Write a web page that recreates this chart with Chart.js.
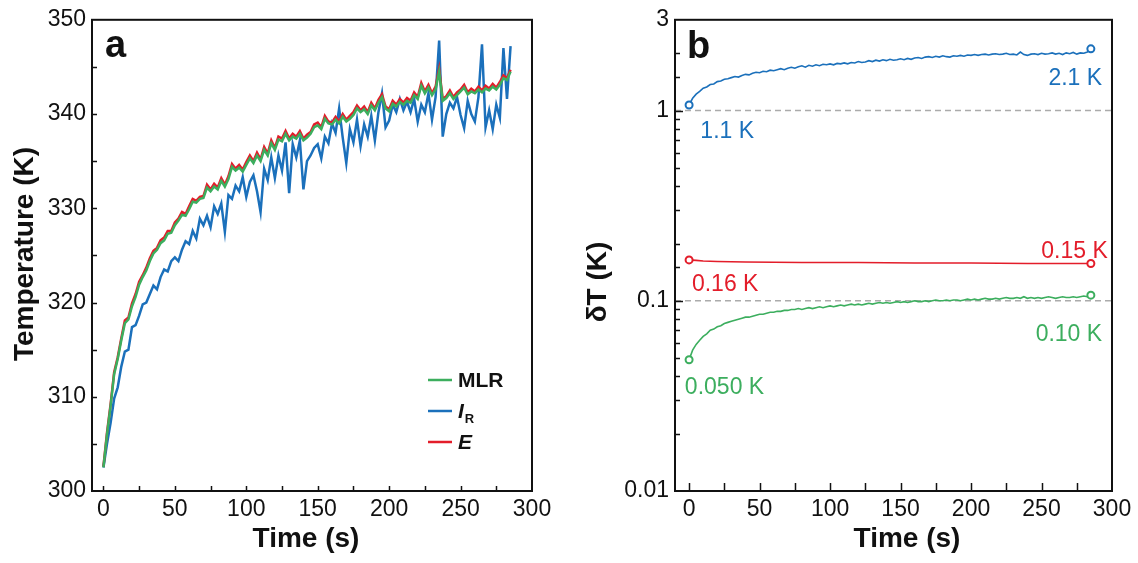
<!DOCTYPE html>
<html>
<head>
<meta charset="utf-8">
<script src="https://cdn.jsdelivr.net/npm/chart.js@4.4.0/dist/chart.umd.min.js"></script>
<style>
  body { margin: 0; background: #fff; }
  #wrap { position: relative; width: 1138px; height: 563px; }
  canvas { position: absolute; top: 0; }
  #chartA { left: 0; }
  #chartB { left: 560px; }
</style>
</head>
<body>
<div id="wrap">
  <canvas id="chartA" width="560" height="563"></canvas>
  <canvas id="chartB" width="578" height="563"></canvas>
</div>
<script>
'use strict';
const FONT = '"Liberation Sans", Arial, Helvetica, sans-serif';
const GREEN = '#3cae5e';
const BLUE = '#1b70bb';
const RED = '#e31d2a';
const INK = '#111111';

// time (s), shared by the traces
let times = [
  0, 2.5, 5, 7.5, 10, 12.5, 15, 17.5, 20, 22.5,
  25, 27.5, 30, 32.5, 35, 37.5, 40, 42.5, 45, 47.5,
  50, 52.5, 55, 57.5, 60, 62.5, 65, 67.5, 70, 72.5,
  75, 77.5, 80, 82.5, 85, 87.5, 90, 92.5, 95, 97.5,
  100, 102.5, 105, 107.5, 110, 112.5, 115, 117.5, 120, 122.5,
  125, 127.5, 130, 132.5, 135, 137.5, 140, 142.5, 145, 147.5,
  150, 152.5, 155, 157.5, 160, 162.5, 165, 167.5, 170, 172.5,
  175, 177.5, 180, 182.5, 185, 187.5, 190, 192.5, 195, 197.5,
  200, 202.5, 205, 207.5, 210, 212.5, 215, 217.5, 220, 222.5,
  225, 227.5, 230, 232.5, 235, 237.5, 240, 242.5, 245, 247.5,
  250, 252.5, 255, 257.5, 260, 262.5, 265, 267.5, 270, 272.5,
  275, 277.5, 280, 282.5, 285
];

// panel a: temperature (K)
let tempMLR = [
  302.5, 306.0, 309.0, 312.4, 314.0, 316.0, 317.8, 318.2, 319.6, 320.6,
  321.9, 322.7, 323.4, 324.4, 325.2, 325.6, 326.3, 326.6, 327.3, 327.4,
  328.2, 328.7, 329.3, 329.2, 329.9, 330.7, 330.6, 331.0, 331.1, 332.2,
  331.8, 332.3, 332.0, 332.9, 332.3, 333.1, 334.4, 334.0, 334.3, 333.9,
  334.6, 335.3, 334.8, 335.6, 335.0, 336.2, 335.6, 336.9, 336.2, 337.3,
  337.1, 337.9, 337.2, 337.6, 337.4, 337.9, 337.2, 337.5, 337.9, 338.6,
  338.8, 338.4, 339.5, 339.0, 338.9, 339.4, 339.0, 339.7, 339.2, 339.5,
  339.9, 340.6, 340.2, 340.5, 340.0, 340.9, 340.4, 341.2, 341.8, 340.6,
  340.3, 341.1, 340.8, 341.3, 341.0, 341.4, 341.2, 342.0, 341.6, 343.0,
  342.2, 342.8, 342.0, 342.6, 344.5, 341.4, 341.7, 342.2, 341.6, 342.0,
  342.4, 342.8, 342.1, 342.4, 342.2, 342.6, 342.3, 342.7, 342.5, 342.9,
  342.6, 343.1, 343.8, 343.6, 344.5
];
let tempE = [
  302.6, 306.2, 309.2, 312.6, 314.2, 316.2, 318.1, 318.4, 319.9, 320.9,
  322.2, 322.9, 323.7, 324.7, 325.5, 325.8, 326.6, 326.9, 327.6, 327.6,
  328.5, 328.9, 329.6, 329.4, 330.2, 331.0, 330.8, 331.2, 331.3, 332.5,
  332.0, 332.6, 332.2, 333.2, 332.5, 333.4, 334.7, 334.2, 334.6, 334.1,
  334.9, 335.6, 335.0, 335.9, 335.2, 336.5, 335.8, 337.2, 336.4, 337.6,
  337.4, 338.2, 337.4, 337.9, 337.6, 338.2, 337.4, 337.8, 338.1, 338.9,
  339.1, 338.6, 339.8, 339.2, 339.1, 339.7, 339.2, 340.0, 339.4, 339.8,
  340.2, 340.9, 340.4, 340.8, 340.2, 341.2, 340.6, 341.5, 342.1, 340.8,
  340.5, 341.4, 341.0, 341.6, 341.2, 341.7, 341.4, 342.3, 341.8, 343.3,
  342.4, 343.1, 342.2, 342.9, 344.8, 341.6, 341.9, 342.5, 341.8, 342.3,
  342.6, 343.1, 342.3, 342.7, 342.4, 342.9, 342.5, 343.0, 342.7, 343.2,
  342.8, 343.4, 344.1, 343.8, 344.7
];
let tempIR = [
  302.5, 305.0, 307.2, 309.8, 311.0, 313.2, 314.8, 315.0, 317.4, 317.6,
  318.6, 319.8, 320.0, 320.9, 321.8, 321.4, 322.7, 323.5, 323.3, 324.4,
  324.8, 324.4, 325.6, 326.5, 326.2, 327.6, 326.8, 328.9, 328.2, 329.2,
  328.0, 330.2, 329.4, 330.5, 327.5, 331.4, 331.0, 332.4, 331.8, 333.3,
  331.2, 332.8, 333.5, 331.8, 329.6, 334.2, 333.0, 335.4, 333.2, 335.6,
  334.0, 337.0, 331.6, 336.8, 335.4, 337.2, 332.0, 335.0, 335.6, 336.4,
  336.8, 335.3, 337.6, 336.9, 339.0, 338.0, 340.6, 337.5, 334.8, 338.4,
  337.0, 339.4, 336.6, 338.9, 337.6, 339.8, 337.2, 340.2, 342.2, 338.6,
  339.3, 341.0, 340.2, 341.6, 340.4, 341.3, 340.2, 341.6, 339.2, 341.0,
  340.2, 342.2, 339.4, 341.8, 347.8, 337.6, 340.0, 341.2, 340.6, 341.8,
  339.9, 338.5, 341.4, 340.0, 339.2, 341.8, 347.4, 338.6, 340.4, 338.4,
  341.0, 339.6, 347.0, 341.6, 347.2
];

// panel b: deltaT (K)
let dtIR = [
  1.07, 1.16, 1.22, 1.26, 1.31, 1.33, 1.37, 1.38, 1.42, 1.43,
  1.46, 1.47, 1.49, 1.51, 1.50, 1.53, 1.55, 1.54, 1.57, 1.59,
  1.58, 1.61, 1.60, 1.63, 1.62, 1.64, 1.66, 1.64, 1.67, 1.69,
  1.67, 1.70, 1.72, 1.69, 1.73, 1.71, 1.74, 1.72, 1.75, 1.74,
  1.76, 1.74, 1.77, 1.76, 1.78, 1.76, 1.79, 1.78, 1.81, 1.79,
  1.80, 1.83, 1.81, 1.84, 1.82, 1.85, 1.83, 1.86, 1.84, 1.85,
  1.87, 1.85, 1.88, 1.86, 1.89, 1.90, 1.88, 1.91, 1.92, 1.90,
  1.93, 1.91, 1.94, 1.92, 1.91, 1.94, 1.93, 1.95, 1.93, 1.96,
  1.95, 1.97, 1.95, 1.97, 1.98, 1.96, 1.98, 1.99, 1.97, 1.98,
  2.00, 1.97, 1.98, 1.96, 2.03, 1.97, 1.95, 1.98, 1.99, 1.97,
  2.00, 1.98, 1.99, 2.01, 1.98, 2.00, 1.97, 2.01, 1.99, 2.02,
  1.98, 2.01, 2.00, 2.03, 2.11
];
let dtMLR = [
  0.049, 0.055, 0.059, 0.062, 0.065, 0.067, 0.070, 0.071, 0.073, 0.074,
  0.076, 0.077, 0.078, 0.079, 0.080, 0.081, 0.082, 0.082, 0.083, 0.084,
  0.085, 0.085, 0.086, 0.087, 0.087, 0.088, 0.088, 0.089, 0.089, 0.090,
  0.090, 0.091, 0.090, 0.091, 0.092, 0.091, 0.092, 0.093, 0.092, 0.093,
  0.094, 0.093, 0.094, 0.095, 0.094, 0.095, 0.096, 0.095, 0.096, 0.095,
  0.096, 0.097, 0.096, 0.097, 0.098, 0.097, 0.098, 0.097, 0.098, 0.099,
  0.098, 0.099, 0.098, 0.099, 0.100, 0.099, 0.099, 0.100, 0.099, 0.100,
  0.101, 0.100, 0.100, 0.101, 0.100, 0.101, 0.101, 0.100, 0.101, 0.102,
  0.101, 0.102, 0.101, 0.102, 0.103, 0.102, 0.102, 0.103, 0.102, 0.103,
  0.104, 0.103, 0.103, 0.104, 0.103, 0.105, 0.103, 0.104, 0.103, 0.104,
  0.103, 0.104, 0.105, 0.104, 0.103, 0.104, 0.105, 0.104, 0.104, 0.105,
  0.104, 0.105, 0.106, 0.105, 0.107
];
let eTimes = [0, 5, 10, 20, 40, 80, 120, 160, 200, 240, 285];
let dtE = [0.164, 0.163, 0.162, 0.161, 0.160, 0.159, 0.159, 0.158, 0.158, 0.157, 0.157];

let refLevels = [1, 0.1];
let yLabelsA = [300, 310, 320, 330, 340, 350];
let yLabelsB = [0.01, 0.1, 1, 3];
let notes = [
  { text: '2.1 K', x: 293, y: 1.365, align: 'right', color: BLUE },
  { text: '1.1 K', x: 8, y: 0.716, align: 'left', color: BLUE },
  { text: '0.15 K', x: 297, y: 0.168, align: 'right', color: RED },
  { text: '0.16 K', x: 2, y: 0.112, align: 'left', color: RED },
  { text: '0.10 K', x: 293, y: 0.0617, align: 'right', color: GREEN },
  { text: '0.050 K', x: -3, y: 0.0324, align: 'left', color: GREEN }
];

function pairs(xs, ys) {
  return xs.map((x, i) => ({ x: x, y: ys[i] }));
}

function same(a, b) {
  return Math.abs(a - b) / Math.abs(b) < 1e-6;
}

function endPoint(ctx) {
  let n = ctx.dataset.data.length;
  return ctx.dataIndex === 0 || ctx.dataIndex === n - 1 ? 3.5 : 0;
}

function drawFrame(chart, xLen, yLen, majorY) {
  let ctx = chart.ctx;
  let a = chart.chartArea;
  let xs = chart.scales.x;
  let ys = chart.scales.y;
  ctx.save();
  ctx.strokeStyle = INK;
  ctx.lineWidth = 1.5;
  ctx.beginPath();
  xs.ticks.forEach(t => {
    if (t.value <= xs.min || t.value >= xs.max) return;
    let px = Math.round(xs.getPixelForValue(t.value)) + 0.5;
    ctx.moveTo(px, a.bottom);
    ctx.lineTo(px, a.bottom - xLen);
  });
  ys.ticks.forEach(t => {
    if (t.value <= ys.min || t.value >= ys.max) return;
    let py = Math.round(ys.getPixelForValue(t.value)) + 0.5;
    let len = majorY && majorY(t.value) ? yLen + 3 : yLen;
    ctx.moveTo(a.left, py);
    ctx.lineTo(a.left + len, py);
  });
  ctx.stroke();
  ctx.lineWidth = 2;
  ctx.strokeRect(a.left, a.top, a.right - a.left, a.bottom - a.top);
  ctx.restore();
}

function writeText(ctx, str, x, y, font, color, align, baseline) {
  ctx.save();
  ctx.font = font;
  ctx.fillStyle = color;
  ctx.textAlign = align || 'left';
  ctx.textBaseline = baseline || 'alphabetic';
  ctx.fillText(str, x, y);
  ctx.restore();
}

function writeVertical(ctx, str, x, y, font) {
  ctx.save();
  ctx.translate(x, y);
  ctx.rotate(-Math.PI / 2);
  ctx.font = font;
  ctx.fillStyle = INK;
  ctx.textAlign = 'center';
  ctx.textBaseline = 'middle';
  ctx.fillText(str, 0, 0);
  ctx.restore();
}

function baseScales(xMin, yWidth) {
  return {
    x: {
      type: 'linear',
      min: xMin,
      max: 300,
      grid: { display: false, drawTicks: false },
      border: { display: false },
      ticks: {
        stepSize: 25,
        includeBounds: false,
        autoSkip: false,
        maxRotation: 0,
        padding: 5,
        color: INK,
        font: { family: FONT, size: 23 },
        callback: v => (v % 50 === 0 ? String(v) : '')
      },
      afterFit: s => { s.height = 72; }
    },
    y: {
      grid: { display: false, drawTicks: false },
      border: { display: false },
      ticks: {
        autoSkip: false,
        padding: 6,
        color: INK,
        font: { family: FONT, size: 23 }
      },
      afterFit: s => { s.width = yWidth; }
    }
  };
}

// panel a
let scalesA = baseScales(-8, 92);
scalesA.y.min = 300;
scalesA.y.max = 350;
scalesA.y.ticks.stepSize = 5;
scalesA.y.ticks.callback = v => (yLabelsA.includes(v) ? String(v) : '');

let legendA = [
  { label: 'MLR', color: GREEN, italic: false },
  { label: 'I', sub: 'R', color: BLUE, italic: true },
  { label: 'E', color: RED, italic: true }
];

let panelA = {
  id: 'panelA',
  afterDatasetsDraw(chart) {
    let ctx = chart.ctx;
    let a = chart.chartArea;
    drawFrame(chart, 5, 5);
    writeText(ctx, 'a', a.left + 13, a.top + 37, 'bold 38px ' + FONT, INK);
    writeVertical(ctx, 'Temperature (K)', 25, 254, 'bold 28px ' + FONT);
    writeText(ctx, 'Time (s)', 306, 539, 'bold 28px ' + FONT, INK, 'center', 'middle');
    legendA.forEach((item, i) => {
      let y = 380 + i * 31;
      ctx.save();
      ctx.strokeStyle = item.color;
      ctx.lineWidth = 2.5;
      ctx.beginPath();
      ctx.moveTo(428, y);
      ctx.lineTo(452, y);
      ctx.stroke();
      ctx.restore();
      let font = (item.italic ? 'italic ' : '') + 'bold 21px ' + FONT;
      writeText(ctx, item.label, 458, y + 7, font, INK);
      if (item.sub) {
        ctx.font = font;
        let w = ctx.measureText(item.label).width;
        writeText(ctx, item.sub, 458 + w + 1, y + 12, 'bold 13px ' + FONT, INK);
      }
    });
  }
};

new Chart(document.getElementById('chartA'), {
  type: 'line',
  data: {
    datasets: [
      { label: 'MLR', data: pairs(times, tempMLR), borderColor: GREEN, borderWidth: 2.5, pointRadius: 0, order: 1 },
      { label: 'E', data: pairs(times, tempE), borderColor: RED, borderWidth: 2.5, pointRadius: 0, order: 2 },
      { label: 'IR', data: pairs(times, tempIR), borderColor: BLUE, borderWidth: 2.5, pointRadius: 0, order: 3 }
    ]
  },
  options: {
    responsive: false,
    animation: false,
    layout: { padding: { left: 0, right: 28, top: 15, bottom: 0 } },
    elements: { line: { tension: 0 } },
    scales: scalesA,
    plugins: { legend: { display: false }, tooltip: { enabled: false } }
  },
  plugins: [panelA]
});

// panel b
let scalesB = baseScales(-10, 115);
scalesB.y.type = 'logarithmic';
scalesB.y.min = 0.01;
scalesB.y.max = 3;
scalesB.y.ticks.callback = v => {
  let hit = yLabelsB.find(l => same(v, l));
  return hit === undefined ? '' : String(hit);
};

function decade(v) {
  let l = Math.log10(v);
  return Math.abs(l - Math.round(l)) < 1e-6;
}

let panelB = {
  id: 'panelB',
  afterDatasetsDraw(chart) {
    let ctx = chart.ctx;
    let a = chart.chartArea;
    let xs = chart.scales.x;
    let ys = chart.scales.y;
    drawFrame(chart, 8, 5, decade);
    writeText(ctx, 'b', a.left + 12, a.top + 38, 'bold 38px ' + FONT, INK);
    writeVertical(ctx, 'δT (K)', 38, 282, 'bold 28px ' + FONT);
    writeText(ctx, 'Time (s)', 347, 539, 'bold 28px ' + FONT, INK, 'center', 'middle');
    notes.forEach(n => {
      writeText(ctx, n.text, xs.getPixelForValue(n.x), ys.getPixelForValue(n.y),
        '23px ' + FONT, n.color, n.align);
    });
  }
};

let refSets = refLevels.map(v => ({
  label: 'ref ' + v,
  data: [{ x: -10, y: v }, { x: 300, y: v }],
  borderColor: '#ababab',
  borderWidth: 1.5,
  borderDash: [6, 4],
  pointRadius: 0,
  order: 10
}));

function traceB(label, xs, ys, color) {
  return {
    label: label,
    data: pairs(xs, ys),
    borderColor: color,
    borderWidth: 1.6,
    pointRadius: endPoint,
    pointBackgroundColor: '#ffffff',
    pointBorderColor: color,
    pointBorderWidth: 2,
    clip: false,
    order: 1
  };
}

new Chart(document.getElementById('chartB'), {
  type: 'line',
  data: {
    datasets: refSets.concat([
      traceB('IR', times, dtIR, BLUE),
      traceB('E', eTimes, dtE, RED),
      traceB('MLR', times, dtMLR, GREEN)
    ])
  },
  options: {
    responsive: false,
    animation: false,
    layout: { padding: { left: 0, right: 26, top: 15, bottom: 0 } },
    elements: { line: { tension: 0 } },
    scales: scalesB,
    plugins: { legend: { display: false }, tooltip: { enabled: false } }
  },
  plugins: [panelB]
});
</script>
</body>
</html>
